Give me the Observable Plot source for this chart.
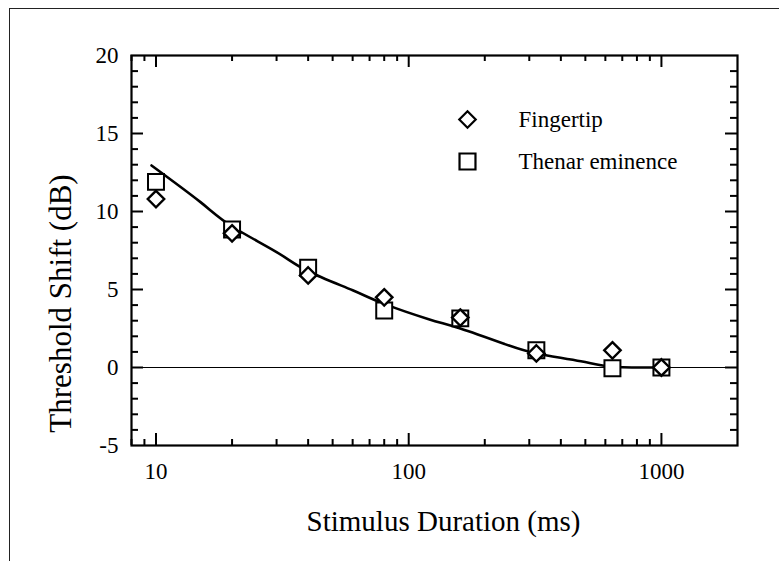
<!DOCTYPE html>
<html>
<head>
<meta charset="utf-8">
<script src="https://cdn.jsdelivr.net/npm/d3@7"></script>
<script src="https://cdn.jsdelivr.net/npm/@observablehq/plot@0.6"></script>
<style>
  html, body { margin: 0; padding: 0; background: #fff; }
  #wrap { position: relative; width: 779px; height: 561px; overflow: hidden; }
  #wrap svg { position: absolute; left: 0; top: 0; }
  #wrap svg text { font-family: "Liberation Serif", "Times New Roman", serif; }
  #edge { position: absolute; left: 9px; top: 8px; right: -2px; bottom: -2px;
          border-top: 1.5px solid #222; border-left: 1.5px solid #222; pointer-events: none; }
</style>
</head>
<body>
<div id="wrap"><div id="edge"></div></div>
<script>
// Stimulus durations (ms) and measured threshold shifts (dB)
const durations = [10, 20, 40, 80, 160, 320, 640, 1000];
const fingertip = [10.8, 8.6, 5.9, 4.5, 3.2, 0.9, 1.1, 0];
const thenar = [11.9, 8.85, 6.4, 3.65, 3.15, 1.1, -0.05, 0];

// Fitted curve
const fitDurations = [9.6, 15, 20, 30, 40, 60, 80, 120, 160, 240, 320, 480, 640, 1000];
const fitShift = [12.95, 10.6, 9.04, 7.4, 6.17, 4.95, 4.08, 3.1, 2.5, 1.5, 0.9, 0.4, 0.05, 0];

// Axis ticks and labels
const xLabels = [10, 100, 1000];
const xMajor = [10, 100, 1000];
const xMinor = [8, 9, 20, 30, 40, 50, 60, 70, 80, 90, 200, 300, 400, 500, 600, 700, 800, 900];
const yLabels = [-5, 0, 5, 10, 15, 20];
const yMajor = [0, 5, 10, 15];
const yMinor = [-4, -3, -2, -1, 1, 2, 3, 4, 6, 7, 8, 9, 11, 12, 13, 14, 16, 17, 18, 19];

// Legend entries
const legendLabels = ["Fingertip", "Thenar eminence"];
const legendSymbols = ["diamond2", "square"];

const W = 779, H = 561;
const mL = 131, mR = 42, mT = 55, mB = 116;
const plotW = W - mL - mR, plotH = H - mT - mB;

const fingerRows = durations.map((d, i) => ({d, v: fingertip[i]}));
const thenarRows = durations.map((d, i) => ({d, v: thenar[i]}));
const fitRows = fitDurations.map((d, i) => ({d, v: fitShift[i]}));

const serif = "Liberation Serif";
const symbolR = {diamond2: 7.4, square: 9};
const legendRowY = [64, 106];

const chart = Plot.plot({
  width: W,
  height: H,
  marginLeft: mL,
  marginRight: mR,
  marginTop: mT,
  marginBottom: mB,
  style: {fontFamily: serif, fontSize: "23px", background: "transparent", color: "#000"},
  x: {type: "log", domain: [8, 2000], axis: null},
  y: {domain: [-5, 20], axis: null},
  marks: [
    Plot.ruleY([0], {stroke: "#000", strokeWidth: 1.2}),
    Plot.line(fitRows, {x: "d", y: "v", curve: "natural", stroke: "#000", strokeWidth: 2.6}),
    Plot.dot(thenarRows, {x: "d", y: "v", symbol: "square", r: symbolR.square, fill: "#fff", stroke: "#000", strokeWidth: 2}),
    Plot.dot(fingerRows, {x: "d", y: "v", symbol: "diamond2", r: symbolR.diamond2, fill: "#fff", stroke: "#000", strokeWidth: 2.4}),

    // inward ticks on all four sides
    Plot.tickX(xMajor, {x: d => d, insetTop: plotH - 12, stroke: "#000", strokeWidth: 2}),
    Plot.tickX(xMinor, {x: d => d, insetTop: plotH - 6, stroke: "#000", strokeWidth: 2}),
    Plot.tickX(xMajor, {x: d => d, insetBottom: plotH - 12, stroke: "#000", strokeWidth: 2}),
    Plot.tickX(xMinor, {x: d => d, insetBottom: plotH - 6, stroke: "#000", strokeWidth: 2}),
    Plot.tickY(yMajor, {y: d => d, insetRight: plotW - 12, stroke: "#000", strokeWidth: 2}),
    Plot.tickY(yMinor, {y: d => d, insetRight: plotW - 7, stroke: "#000", strokeWidth: 2}),
    Plot.tickY(yMajor, {y: d => d, insetLeft: plotW - 12, stroke: "#000", strokeWidth: 2}),
    Plot.tickY(yMinor, {y: d => d, insetLeft: plotW - 7, stroke: "#000", strokeWidth: 2}),
    Plot.frame({stroke: "#000", strokeWidth: 2.2}),

    // tick labels
    Plot.text(xLabels, {x: d => d, frameAnchor: "bottom", dy: 26, lineAnchor: "middle", text: d => String(d), fill: "#000", fontFamily: serif, fontSize: 23}),
    Plot.text(yLabels, {y: d => d, frameAnchor: "left", dx: -13, textAnchor: "end", lineAnchor: "middle", text: d => String(d), fill: "#000", fontFamily: serif, fontSize: 23}),

    // axis titles
    Plot.text(["Stimulus Duration (ms)"], {frameAnchor: "bottom", dx: 9, dy: 76, textAnchor: "middle", lineAnchor: "middle", fontSize: 29, fontFamily: serif, fill: "#000"}),
    Plot.text(["Threshold Shift (dB)"], {frameAnchor: "left", dx: -70, dy: 53, textAnchor: "middle", lineAnchor: "middle", rotate: -90, fontSize: 31, fontFamily: serif, fill: "#000"}),

    // legend
    ...legendLabels.flatMap((label, i) => [
      Plot.dot([label], {frameAnchor: "top-left", dx: 336, dy: legendRowY[i], symbol: legendSymbols[i], r: symbolR[legendSymbols[i]], fill: "#fff", stroke: "#000", strokeWidth: 2.2}),
      Plot.text([label], {frameAnchor: "top-left", dx: 387, dy: legendRowY[i], textAnchor: "start", lineAnchor: "middle", fill: "#000", fontFamily: serif, fontSize: 23})
    ])
  ]
});

document.getElementById("wrap").insertBefore(chart, document.getElementById("edge"));
</script>
</body>
</html>
